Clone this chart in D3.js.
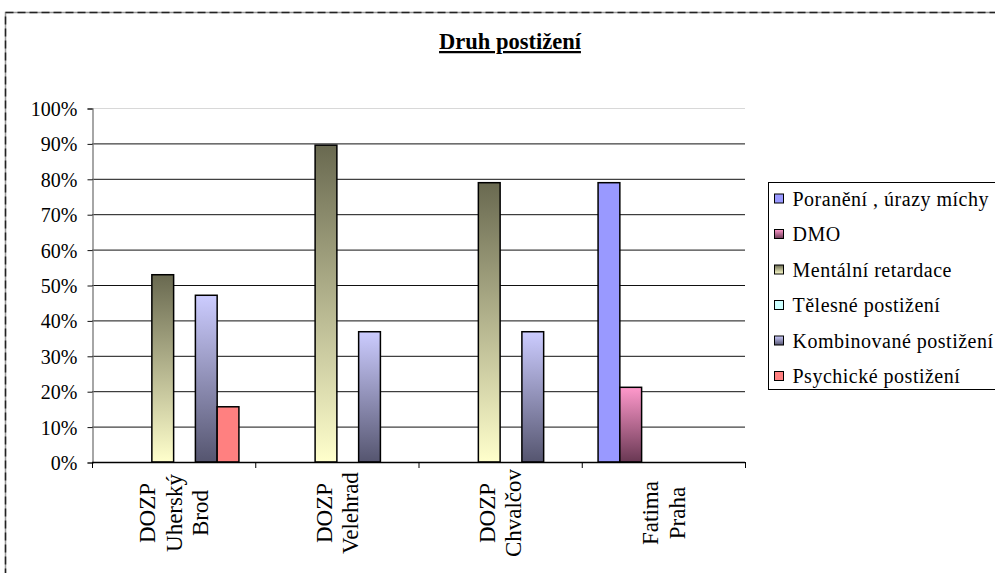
<!DOCTYPE html>
<html>
<head>
<meta charset="utf-8">
<script src="https://cdn.jsdelivr.net/npm/d3@7"></script>
<style>
  body { margin: 0; background: #fff; }
  svg { display: block; }
  text { font-family: "Liberation Serif", "DejaVu Serif", serif; fill: #000; }
</style>
</head>
<body>
<svg width="995" height="573"></svg>
<script>
const categories = [["DOZP", "Uherský", "Brod"], ["DOZP", "Velehrad"], ["DOZP", "Chvalčov"], ["Fatima", "Praha"]];
const seriesNames = ["Poranění , úrazy míchy", "DMO", "Mentální retardace", "Tělesné postižení", "Kombinované postižení", "Psychické postižení"];
const poraneni = [0, 0, 0, 78.9];
const dmo = [0, 0, 0, 21.1];
const mentalni = [52.9, 89.5, 78.9, 0];
const telesne = [0, 0, 0, 0];
const kombinovane = [47.1, 36.8, 36.8, 0];
const psychicke = [15.6, 0, 0, 0];
const yTicks = [0, 10, 20, 30, 40, 50, 60, 70, 80, 90, 100];

const seriesValues = [poraneni, dmo, mentalni, telesne, kombinovane, psychicke];

const svg = d3.select("svg");

// fills: [top colour, bottom colour]
const fills = [
    ["#9999ff", "#9999ff"],
    ["#ff99cc", "#693853"],
    ["#696950", "#ffffcc"],
    ["#ccffff", "#ccffff"],
    ["#ccccff", "#55556f"],
    ["#ff8080", "#ff8080"]
];

const defs = svg.append("defs");
fills.forEach((f, i) => {
    const g = defs.append("linearGradient")
        .attr("id", "grad" + i)
        .attr("x1", 0).attr("y1", 0).attr("x2", 0).attr("y2", 1);
    g.append("stop").attr("offset", "0%").attr("stop-color", f[0]);
    g.append("stop").attr("offset", "100%").attr("stop-color", f[1]);
});

// outer dashed border
svg.append("rect")
    .attr("x", 5.5).attr("y", 12.5).attr("width", 1100).attr("height", 700)
    .attr("fill", "none").attr("stroke", "#999").attr("stroke-width", 1.5);
svg.append("rect")
    .attr("x", 5.5).attr("y", 12.5).attr("width", 1100).attr("height", 700)
    .attr("fill", "none").attr("stroke", "#222").attr("stroke-width", 1.5)
    .attr("stroke-dasharray", "8,4");

// title
svg.append("text")
    .attr("x", 510).attr("y", 49)
    .attr("text-anchor", "middle")
    .attr("font-size", 22.5)
    .attr("font-weight", "bold")
    .attr("text-decoration", "underline")
    .text("Druh postižení");

const plotLeft = 92, plotRight = 745, plotTop = 108, plotBottom = 462;

const x0 = d3.scaleBand()
    .domain(d3.range(categories.length))
    .range([plotLeft, plotRight]);

const x1 = d3.scaleBand()
    .domain(d3.range(seriesNames.length))
    .range([0, x0.bandwidth()])
    .paddingInner(0)
    .paddingOuter(0.75);

const y = d3.scaleLinear().domain([0, 100]).range([plotBottom, plotTop]);

// gridlines
svg.append("g")
    .selectAll("line")
    .data(yTicks.filter(d => d > 0))
    .join("line")
    .attr("x1", plotLeft).attr("x2", plotRight)
    .attr("y1", d => y(d) + 0.5).attr("y2", d => y(d) + 0.5)
    .attr("stroke", d => d === 100 ? "#d8d8d8" : "#111")
    .attr("stroke-width", 1);

// y axis
const yAxis = svg.append("g")
    .attr("transform", `translate(${plotLeft + 0.5},0.5)`)
    .call(d3.axisLeft(y).tickValues(yTicks).tickFormat(d => d + "%").tickSize(5).tickPadding(10));
yAxis.attr("font-family", null);
yAxis.select(".domain").attr("stroke", "#777").attr("stroke-width", 1.3);
yAxis.selectAll(".tick line").attr("stroke", "#111");
yAxis.selectAll(".tick text")
    .attr("font-size", 20)
    .attr("fill", "#000")
    .attr("dy", "0.35em");

// bars
const groups = svg.append("g")
    .selectAll("g")
    .data(categories)
    .join("g")
    .attr("transform", (d, i) => `translate(${x0(i)},0)`);

groups.selectAll("rect")
    .data((d, i) => seriesValues.map((s, k) => ({ k: k, v: s[i] })).filter(b => b.v > 0))
    .join("rect")
    .attr("x", b => x1(b.k))
    .attr("y", b => y(b.v))
    .attr("width", x1.bandwidth())
    .attr("height", b => y(0) - y(b.v))
    .attr("fill", b => `url(#grad${b.k})`)
    .attr("stroke", "#000")
    .attr("stroke-width", 1.5);

// x axis line and ticks
svg.append("line")
    .attr("x1", plotLeft).attr("x2", plotRight)
    .attr("y1", plotBottom + 0.5).attr("y2", plotBottom + 0.5)
    .attr("stroke", "#000").attr("stroke-width", 1.3);
svg.append("g")
    .selectAll("line")
    .data(d3.range(categories.length + 1))
    .join("line")
    .attr("x1", i => (i < categories.length ? x0(i) : plotRight) + 0.5)
    .attr("x2", i => (i < categories.length ? x0(i) : plotRight) + 0.5)
    .attr("y1", plotBottom).attr("y2", plotBottom + 6)
    .attr("stroke", "#000");

// category labels (rotated, multi-line)
const lineGap = 26.5;
groups.each(function(lines) {
    const cx = x0.bandwidth() / 2;
    lines.forEach((t, j) => {
        const off = (j - (lines.length - 1) / 2) * lineGap;
        d3.select(this).append("text")
            .attr("transform", `translate(${cx + off},513) rotate(-90)`)
            .attr("text-anchor", "middle")
            .attr("dy", "0.35em")
            .attr("font-size", 23)
            .text(t);
    });
});

// legend
const legend = svg.append("g").attr("transform", "translate(768.5,182.5)");
legend.append("rect")
    .attr("width", 300).attr("height", 207)
    .attr("fill", "#fff").attr("stroke", "#000");
const items = legend.selectAll("g.item")
    .data(seriesNames)
    .join("g")
    .attr("class", "item")
    .attr("transform", (d, i) => `translate(0,${16 + i * 35.5})`);
items.append("rect")
    .attr("x", 6).attr("y", -4.5).attr("width", 9).attr("height", 9)
    .attr("fill", (d, i) => `url(#grad${i})`)
    .attr("stroke", "#000").attr("stroke-width", 1);
items.append("text")
    .attr("x", 24)
    .attr("dy", "0.35em")
    .attr("font-size", 20)
    .attr("letter-spacing", 0.5)
    .text(d => d);
</script>
</body>
</html>
